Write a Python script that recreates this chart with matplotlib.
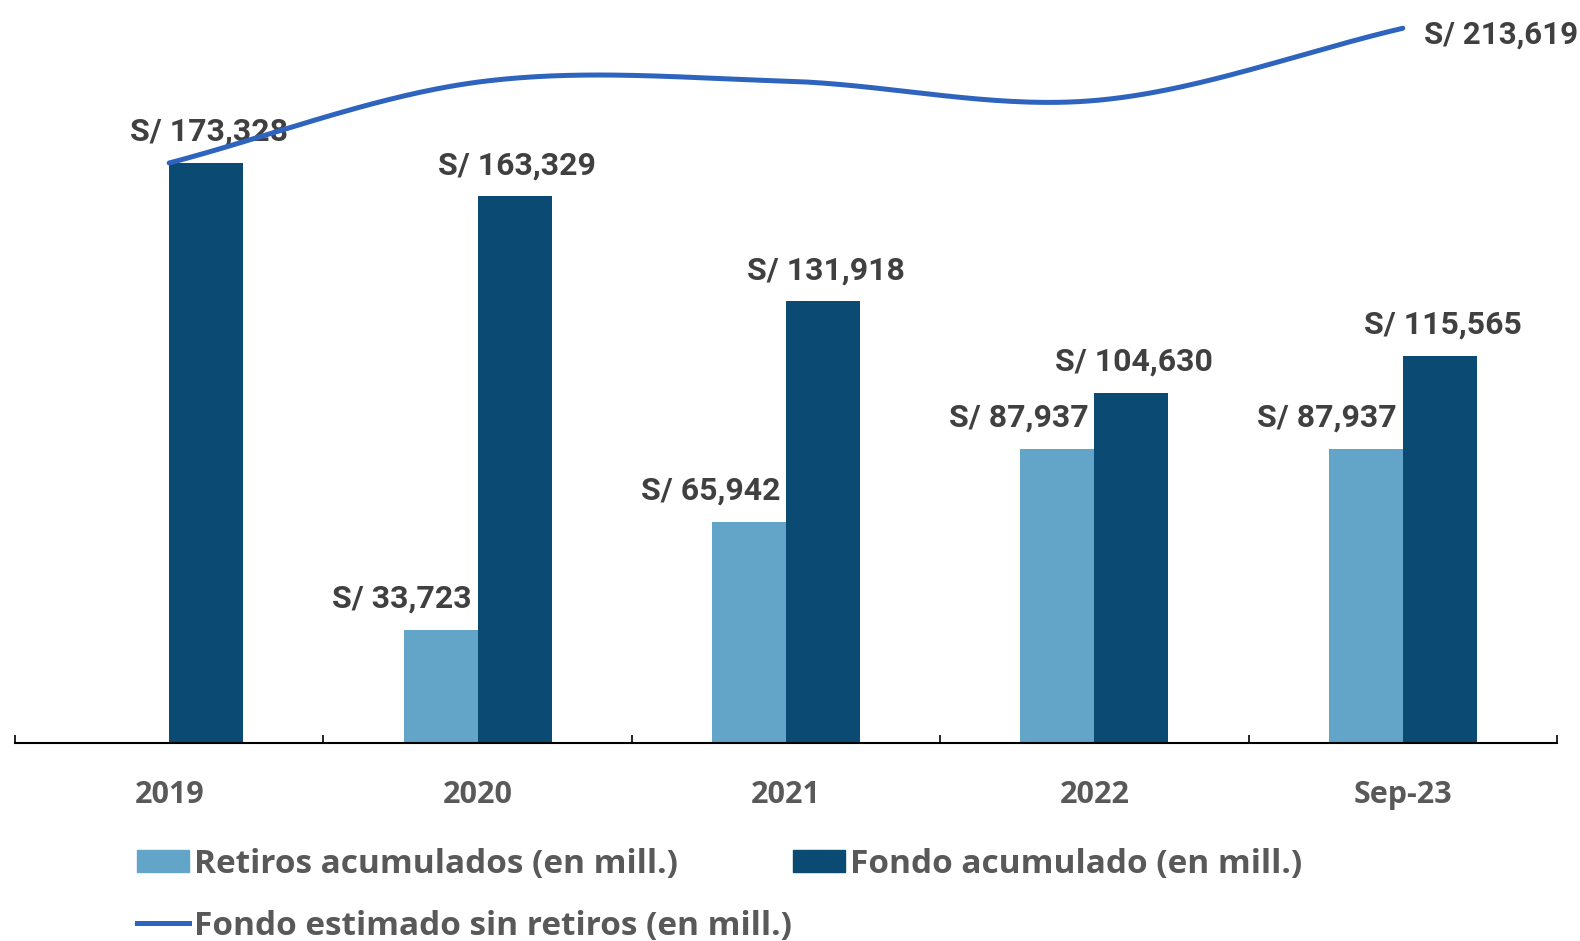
import numpy as np
import matplotlib
matplotlib.use("Agg")
import matplotlib.pyplot as plt
from matplotlib.patches import Patch
from matplotlib.lines import Line2D

plt.rcParams['font.family'] = ['Open Sans', 'DejaVu Sans']
plt.rcParams['font.weight'] = 'bold'
num_font = ['Roboto', 'DejaVu Sans']

categories = ['2019', '2020', '2021', '2022', 'Sep-23']
retiros = [0, 33723, 65942, 87937, 87937]            # Retiros acumulados
fondo = [173328, 163329, 131918, 104630, 115565]     # Fondo acumulado
sin_retiros = [173328, 197500, 197800, 192000, 213619]  # Fondo estimado sin retiros

c_light = '#62A5C8'
c_dark = '#0B4A73'
c_line = '#2E64BE'
c_lab = '#404040'
c_tick = '#595959'


def hermite_smooth(y, n=60):
    # curva suavizada tipo Excel (Catmull-Rom)
    y = np.asarray(y, dtype=float)
    m = np.zeros_like(y)
    m[1:-1] = (y[2:] - y[:-2]) / 2
    m[0] = y[1] - y[0]
    m[-1] = y[-1] - y[-2]
    xs, ys = [], []
    for i in range(len(y) - 1):
        t = np.linspace(0, 1, n)
        h00 = 2*t**3 - 3*t**2 + 1
        h10 = t**3 - 2*t**2 + t
        h01 = -2*t**3 + 3*t**2
        h11 = t**3 - t**2
        xs.append(i + t)
        ys.append(h00*y[i] + h10*m[i] + h01*y[i+1] + h11*m[i+1])
    return np.concatenate(xs), np.concatenate(ys)


fig = plt.figure(figsize=(15.8, 9.41), dpi=100)
ax = fig.add_axes([15/1580, 198.4/941, 1542/1580, 735.7/941])

x = np.arange(len(categories))
w = 0.24
ax.bar(x - w/2, retiros, w, color=c_light, zorder=2)
ax.bar(x + w/2, fondo, w, color=c_dark, zorder=2)

for i, v in enumerate(retiros):
    if v > 0:
        ax.annotate(f'S/ {v:,}', (i, v), xytext=(-4, 16), textcoords='offset points',
                    ha='right', va='baseline', fontsize=23, color=c_lab, zorder=3,
                    family=num_font)
for i, v in enumerate(fondo):
    ax.annotate(f'S/ {v:,}', (i + w/2, v), xytext=(2, 16), textcoords='offset points',
                ha='center', va='baseline', fontsize=23, color=c_lab, zorder=3,
                family=num_font)

lx, ly = hermite_smooth(sin_retiros)
ax.plot(lx, ly, color=c_line, lw=3.6, solid_capstyle='round', zorder=4)
ax.annotate(f'S/ {sin_retiros[-1]:,}', (x[-1], sin_retiros[-1]), xytext=(15, -11),
            textcoords='offset points', ha='left', va='baseline', fontsize=22.5, color=c_lab,
            family=num_font)

ax.set_xlim(-0.5, len(categories) - 0.5)
ax.set_ylim(0, 220000)
ax.set_yticks([])
for s in ['left', 'right', 'top']:
    ax.spines[s].set_visible(False)
ax.spines['bottom'].set_linewidth(1.5)
ax.spines['bottom'].set_color('black')

ax.set_xticks(x)
ax.set_xticklabels(categories, fontsize=22, color=c_tick, fontweight='bold')
ax.tick_params(axis='x', which='major', length=0, pad=27)
ax.set_xticks(np.arange(len(categories) + 1) - 0.5, minor=True)
ax.tick_params(axis='x', which='minor', direction='in', length=6, width=1.2, color='black')

handles = [Patch(color=c_light), Line2D([0], [0], color=c_line, lw=3.6),
           Patch(color=c_dark)]
labels = ['Retiros acumulados (en mill.)', 'Fondo estimado sin retiros (en mill.)',
          'Fondo acumulado (en mill.)']
leg = fig.legend(handles, labels, loc='upper left', bbox_to_anchor=(137/1580, 1 - 848/941),
                 ncol=2, frameon=False, fontsize=24, handlelength=1.55, handleheight=0.62,
                 handletextpad=0.15, columnspacing=0.05, labelspacing=0.86, borderpad=0,
                 borderaxespad=0)
for t in leg.get_texts():
    t.set_color(c_tick)

fig.savefig('out.png', dpi=100)
